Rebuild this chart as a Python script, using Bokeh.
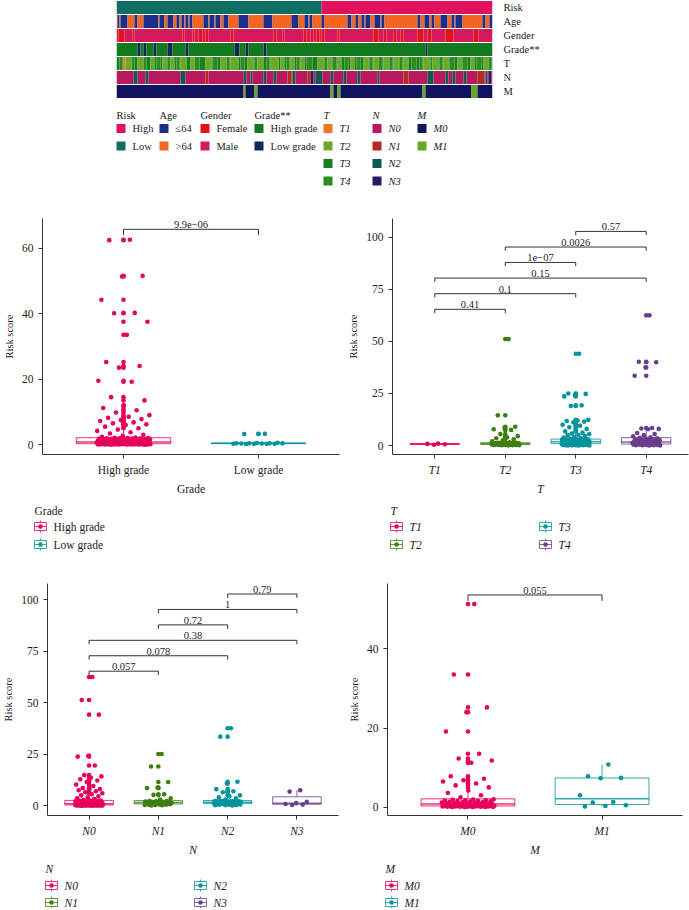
import numpy as np
from bokeh.plotting import figure
from bokeh.models import Range1d, LinearAxis, FixedTicker
from bokeh.layouts import column, row
from bokeh.embed import file_html
from bokeh.resources import INLINE
from bokeh.core.properties import value

FONT = "Liberation Serif"
INK = "#222222"

# ====================== DATA ======================
# --- annotation heatmap: patients (columns), minority segments per row (inclusive column indices)
N_PATIENTS = 376
heat_rows = ["Risk", "Age", "Gender", "Grade**", "T", "N", "M"]

risk_default = "High"
risk_segments = {"Low": [(0, 204)]}

age_default = ">64"
age_segments = {"≤64": [(1, 2), (4, 10), (18, 20), (27, 41), (43, 47), (51, 56), (60, 62), (65, 67), (69, 71),
                        (73, 75), (87, 91), (93, 97), (99, 103), (107, 111), (122, 131), (147, 155), (175, 181),
                        (188, 191), (193, 195), (205, 207), (231, 234), (239, 241), (245, 247), (249, 253),
                        (258, 263), (265, 267), (301, 303), (308, 312), (315, 317), (324, 330), (335, 337),
                        (339, 341), (342, 345), (366, 368), (373, 375)]}

gender_default = "Male"
gender_segments = {"Female": [(2, 7), (16, 17), (66, 67), (76, 77), (82, 85), (89, 91), (114, 116), (157, 159),
                              (166, 167), (187, 189), (194, 196), (200, 202), (205, 207), (221, 222), (257, 261),
                              (267, 269), (277, 279), (284, 286), (301, 306), (311, 314), (329, 336), (357, 361)]}

grade_default = "High grade"
grade_segments = {"Low grade": [(21, 23), (27, 29), (37, 39), (51, 55), (69, 71), (118, 122), (129, 131),
                                (147, 149), (309, 310)]}

t_default = "T3"
t_segments = {
    "T4": [(3, 5), (15, 17), (27, 29), (40, 43), (51, 53), (60, 62), (78, 82), (96, 100), (110, 112), (124, 127),
           (138, 140), (150, 152), (170, 172), (180, 182), (190, 195), (208, 210), (216, 219), (228, 231),
           (240, 243), (253, 255), (262, 265), (273, 275), (283, 285), (295, 299), (303, 305), (314, 315),
           (323, 325), (333, 337), (346, 350), (360, 364), (372, 374)],
    "T2": [(9, 14), (21, 26), (34, 37), (46, 49), (54, 57), (64, 69), (74, 77), (89, 94), (104, 109), (114, 121),
           (131, 136), (141, 146), (154, 161), (164, 167), (174, 177), (184, 187), (201, 206), (211, 214),
           (221, 224), (234, 237), (247, 251), (257, 261), (267, 271), (277, 281), (287, 291), (307, 312),
           (316, 321), (327, 331), (341, 344), (354, 357), (367, 371)],
    "T1": [(7, 8)],
}

n_default = "N0"
n_segments = {
    "N2": [(17, 20), (29, 31), (64, 68), (127, 129), (134, 135), (147, 149), (157, 159), (176, 178), (199, 205),
           (214, 216), (227, 229), (241, 243), (261, 262), (311, 316), (329, 331), (336, 338), (347, 349),
           (369, 370)],
    "N1": [(89, 91), (171, 174), (191, 193), (287, 291), (361, 367)],
    "N3": [(194, 196), (372, 374)],
}

m_default = "M0"
m_segments = {"M1": [(127, 128), (138, 140), (214, 216), (221, 223), (306, 308), (355, 360)]}

heat_colors = {
    "Risk": {"High": "#E0125F", "Low": "#0E6E62"},
    "Age": {"≤64": "#1B2F8A", ">64": "#F26522"},
    "Gender": {"Female": "#E3121B", "Male": "#D6195B"},
    "Grade**": {"High grade": "#127A1E", "Low grade": "#0C2A55"},
    "T": {"T1": "#F07623", "T2": "#6BAA24", "T3": "#14801F", "T4": "#2E8B22"},
    "N": {"N0": "#B8195E", "N1": "#B52A20", "N2": "#0D5953", "N3": "#2B1A63"},
    "M": {"M0": "#10145F", "M1": "#6AA624"},
}
heat_legend_order = {
    "Risk": ["High", "Low"], "Age": ["≤64", ">64"], "Gender": ["Female", "Male"],
    "Grade**": ["High grade", "Low grade"], "T": ["T1", "T2", "T3", "T4"],
    "N": ["N0", "N1", "N2", "N3"], "M": ["M0", "M1"],
}

# --- risk score per group (boxplot + jitter panels)
grade_cats = ["High grade", "Low grade"]
grade_high = [62.5, 62.4, 51.5, 51.3, 44.2, 40.2, 40.1, 37.5, 33.5, 25.2, 24.0, 23.5, 19.5, 19.2, 14.5, 13.5,
              12.0, 11.2, 10.5, 9.8, 9.0, 8.5, 8.2, 7.8, 7.5, 7.2, 6.8, 6.5, 6.2, 6.0, 5.5, 5.0,
              4.6, 4.2, 3.8, 3.4, 3.0, 2.7, 2.4, 2.2,
              2.08, 2.04, 2.01, 1.98, 1.94, 1.92, 1.87, 1.85, 1.81, 1.78, 1.76, 1.71, 1.68, 1.66, 1.61, 1.58,
              1.56, 1.51, 1.48, 1.46, 1.41, 1.38, 1.36, 1.31, 1.29, 1.25, 1.21, 1.19, 1.15, 1.11, 1.09, 1.05,
              1.02, 0.99, 0.95, 0.92, 0.89, 0.86, 0.83, 0.81,
              0.79, 0.77, 0.76, 0.74, 0.72, 0.71, 0.69, 0.68, 0.66, 0.65, 0.63, 0.62, 0.6, 0.59, 0.57, 0.56,
              0.54, 0.52, 0.51, 0.5, 0.48, 0.47, 0.45, 0.44, 0.42, 0.41, 0.4, 0.39, 0.38, 0.37, 0.36, 0.35,
              0.34, 0.33, 0.33, 0.32, 0.32, 0.31, 0.31, 0.3,
              0.29, 0.29, 0.28, 0.27, 0.27, 0.26, 0.25, 0.25, 0.24, 0.23, 0.23, 0.22, 0.21, 0.21, 0.2, 0.19,
              0.19, 0.18, 0.17, 0.17, 0.16, 0.15, 0.15, 0.14, 0.13, 0.13, 0.12, 0.11, 0.11, 0.1, 0.09, 0.08,
              0.07, 0.06, 0.05, 0.05, 0.04, 0.03, 0.02, 0.01]
grade_low = [3.3, 3.25, 0.6, 0.5, 0.45, 0.4, 0.4, 0.4, 0.35, 0.35, 0.3, 0.3, 0.3, 0.25, 0.2]

t_cats = ["T1", "T2", "T3", "T4"]
t1_vals = [0.9, 0.8, 0.6, 0.4]
t2_vals = [51.1, 14.5, 9.0, 8.5, 7.8, 7.5, 5.5, 4.5, 4.0, 3.5, 3.0, 2.5, 2.0, 1.6,
           1.3, 1.28, 1.25, 1.2, 1.18, 1.15, 1.1, 1.06, 1.02, 1.0, 0.96, 0.92, 0.9, 0.88, 0.85, 0.82, 0.8,
           0.78, 0.75, 0.72, 0.7, 0.68, 0.65, 0.62, 0.6, 0.57, 0.55, 0.52, 0.5, 0.47, 0.45, 0.42, 0.4, 0.37,
           0.35, 0.32, 0.3, 0.26, 0.22, 0.18, 0.14, 0.1]
t3_vals = [44.1, 25.0, 24.8, 24.2, 23.6, 19.3, 19.0, 12.3, 12.0, 11.8, 11.5, 11.2, 10.0, 9.5, 8.8, 8.0, 7.2,
           6.8, 6.2, 5.8, 5.5, 5.2, 5.0, 4.6, 4.2, 3.8, 3.5, 3.2,
           3.05, 3.0, 2.95, 2.9, 2.86, 2.8, 2.74, 2.7, 2.62, 2.55, 2.51, 2.45, 2.4, 2.36, 2.3, 2.24, 2.2, 2.15,
           2.1, 2.05, 2.0, 1.97, 1.93, 1.9, 1.88, 1.85, 1.82, 1.8,
           1.77, 1.74, 1.7, 1.67, 1.63, 1.6, 1.57, 1.54, 1.5, 1.47, 1.44, 1.4, 1.37, 1.34, 1.3, 1.27, 1.24, 1.2,
           1.17, 1.14, 1.1, 1.07, 1.04, 1.0, 0.98, 0.96, 0.94, 0.92,
           0.88, 0.85, 0.82, 0.8, 0.77, 0.74, 0.7, 0.67, 0.64, 0.6, 0.57, 0.54, 0.5, 0.47, 0.44, 0.4, 0.37,
           0.34, 0.3, 0.27, 0.24, 0.2, 0.17, 0.14, 0.1, 0.08, 0.05, 0.02]
t4_vals = [62.5, 40.2, 40.0, 37.5, 33.5, 8.4, 8.2, 8.0, 7.8, 6.0, 5.5, 5.0, 4.5, 4.0,
           3.7, 3.5, 3.3, 3.1, 2.9, 2.8, 2.6, 2.5, 2.3, 2.2, 2.1, 2.0, 1.9, 1.8,
           1.7, 1.6, 1.5, 1.4, 1.35, 1.3, 1.2, 1.1, 1.0, 0.95, 0.9, 0.85, 0.8, 0.75,
           0.68, 0.62, 0.55, 0.5, 0.45, 0.4, 0.35, 0.3, 0.25, 0.2, 0.15, 0.12, 0.08, 0.05]

n_cats = ["N0", "N1", "N2", "N3"]
n0_vals = [62.5, 51.3, 44.2, 24.2, 23.8, 19.5, 14.8, 14.2, 13.5, 12.8, 12.2, 11.5, 10.2, 9.5, 8.5, 8.0, 7.8,
           7.5, 7.0, 6.5, 6.0, 5.5, 5.0, 4.5, 4.0, 3.6, 3.2, 2.8,
           2.45, 2.4, 2.35, 2.3, 2.2, 2.15, 2.1, 2.0, 1.95, 1.9, 1.8, 1.75, 1.7, 1.6, 1.55, 1.5, 1.45, 1.4,
           1.35, 1.3, 1.25, 1.2, 1.15, 1.1, 1.05, 1.0, 0.95, 0.92,
           0.88, 0.85, 0.82, 0.8, 0.78, 0.75, 0.72, 0.7, 0.68, 0.65, 0.62, 0.6, 0.58, 0.55, 0.52, 0.5, 0.48,
           0.46, 0.44, 0.42, 0.4, 0.38, 0.36, 0.35, 0.34, 0.33, 0.32, 0.31,
           0.29, 0.28, 0.27, 0.26, 0.25, 0.24, 0.23, 0.22, 0.21, 0.2, 0.19, 0.18, 0.17, 0.16, 0.15, 0.14, 0.13,
           0.12, 0.11, 0.1, 0.09, 0.08, 0.07, 0.06, 0.05, 0.04, 0.03, 0.02]
n1_vals = [25.1, 19.0, 11.5, 8.8, 8.5, 5.5, 5.2, 3.5, 3.0,
           2.25, 2.2, 2.1, 2.0, 1.9, 1.8, 1.7, 1.6, 1.5, 1.45, 1.4, 1.3, 1.2, 1.1, 1.05, 1.0, 0.9, 0.85, 0.75,
           0.7, 0.6, 0.5, 0.4, 0.35, 0.3, 0.2, 0.1]
n2_vals = [37.6, 33.5, 11.6, 10.8, 8.0, 7.0, 6.5, 5.0, 4.5, 4.0, 3.5, 3.0,
           2.28, 2.24, 2.2, 2.15, 2.1, 2.05, 2.0, 1.9, 1.85, 1.8, 1.7, 1.65, 1.58, 1.52, 1.47, 1.42, 1.36, 1.3,
           1.25, 1.2, 1.15, 1.1, 1.05, 1.0, 0.95, 0.88, 0.8, 0.72, 0.65, 0.55, 0.48, 0.4, 0.32, 0.25, 0.18, 0.1]
n3_vals = [7.5, 6.8, 1.8, 1.2, 0.8, 0.5, 0.3]

m_cats = ["M0", "M1"]
m0_vals = [51.3, 33.5, 25.2, 24.0, 19.1, 13.5, 12.3, 11.8, 11.2, 7.8, 7.2, 6.8, 6.5, 6.0, 5.5, 5.0,
           4.2, 3.6, 3.0, 2.5,
           1.98, 1.92, 1.86, 1.8, 1.74, 1.68, 1.62, 1.56, 1.5, 1.44, 1.38, 1.32, 1.26, 1.2, 1.14, 1.08, 1.02,
           0.96, 0.9, 0.85,
           0.78, 0.75, 0.72, 0.69, 0.66, 0.63, 0.6, 0.57, 0.54, 0.51, 0.48, 0.45, 0.42, 0.4, 0.38, 0.36, 0.34,
           0.33, 0.32, 0.31,
           0.29, 0.28, 0.26, 0.25, 0.24, 0.22, 0.21, 0.2, 0.18, 0.17, 0.16, 0.14, 0.13, 0.12, 0.1, 0.09, 0.07,
           0.06, 0.04, 0.02]
m1_vals = [10.8, 7.8, 7.4, 7.3, 3.0, 1.3, 1.2, 0.5, 0.3, 0.2]

# p-values of pairwise comparisons (group index pairs, 1-based)
grade_pvals = [(1, 2, "9.9e−06")]
t_pvals = [(1, 2, "0.41"), (1, 3, "0.1"), (1, 4, "0.15"), (2, 3, "1e−07"), (2, 4, "0.0026"), (3, 4, "0.57")]
n_pvals = [(1, 2, "0.057"), (1, 3, "0.078"), (1, 4, "0.38"), (2, 3, "0.72"), (2, 4, "1"), (3, 4, "0.79")]
m_pvals = [(1, 2, "0.055")]

pal4 = ["#E6005C", "#3F7F10", "#00949C", "#6A3D8E"]
pal2 = ["#E6005C", "#00949C"]

# ====================== STYLE / LAYOUT ======================
grade_br_y, grade_tip = [65.7], 1.7
t_br_y, t_tip = [65.4, 72.9, 80.4, 87.9, 95.3, 102.8], 1.8
n_br_y, n_tip = [65.3, 72.8, 80.3, 87.8, 95.3, 102.8], 1.9
m_br_y, m_tip = [53.6], 1.5


def base_fig(w, h, xr, yr, **kw):
    p = figure(width=w, height=h, x_range=Range1d(*xr), y_range=Range1d(*yr),
               output_backend="svg", toolbar_location=None, frame_align=False, **kw)
    p.outline_line_color = None
    p.grid.visible = False
    p.background_fill_color = "white"
    p.border_fill_color = "white"
    return p


def blank_fig(w, h, xr, yr):
    return base_fig(w, h, xr, yr, x_axis_location=None, y_axis_location=None,
                    min_border_left=0, min_border_right=0, min_border_top=0, min_border_bottom=0)


def txt(p, x, y, s, size="10px", italic=False, align="left", baseline="middle", color=INK, y_off=0):
    p.text(x=[x], y=[y], text=[s], text_font=value(FONT), text_font_size=value(size),
           text_font_style="italic" if italic else "normal", text_align=align,
           text_baseline=baseline, text_color=color, y_offset=y_off)


# ---------- heatmap ----------
def build(default, segs):
    arr = [default] * N_PATIENTS
    for cat, lst in segs.items():
        for a, b in lst:
            for i in range(a, b + 1):
                arr[i] = cat
    return arr


heat_data = {
    "Risk": build(risk_default, risk_segments),
    "Age": build(age_default, age_segments),
    "Gender": build(gender_default, gender_segments),
    "Grade**": build(grade_default, grade_segments),
    "T": build(t_default, t_segments),
    "N": build(n_default, n_segments),
    "M": build(m_default, m_segments),
}

hm = base_fig(689, 104, (0, N_PATIENTS), (-0.5, 6.5), x_axis_location=None, y_axis_location=None,
              min_border_left=116, min_border_right=197, min_border_top=0, min_border_bottom=6)
for r, name in enumerate(heat_rows):
    arr = heat_data[name]
    yc = 6 - r
    lefts, rights, cols = [], [], []
    start = 0
    for i in range(1, N_PATIENTS + 1):
        if i == N_PATIENTS or arr[i] != arr[start]:
            lefts.append(start)
            rights.append(i)
            cols.append(heat_colors[name][arr[start]])
            start = i
    hm.quad(left=lefts, right=rights, bottom=yc - 0.46, top=yc + 0.46, fill_color=cols, line_color=None)
row_axis = LinearAxis(ticker=FixedTicker(ticks=list(range(7))),
                      major_label_overrides={6 - r: n for r, n in enumerate(heat_rows)})
row_axis.axis_line_color = None
row_axis.major_tick_line_color = None
row_axis.minor_tick_line_color = None
row_axis.major_label_standoff = 5
row_axis.major_label_text_font = FONT
row_axis.major_label_text_font_size = "10.5px"
row_axis.major_label_text_color = INK
hm.add_layout(row_axis, "right")

# ---------- heatmap legend ----------
hl = blank_fig(689, 88, (0, 689), (192, 104))
legend_x = {"Risk": 116, "Age": 159, "Gender": 200, "Grade**": 254, "T": 323, "N": 372, "M": 417}
item_y = [128, 145.5, 163, 180.5]
for name in heat_rows:
    x0 = legend_x[name]
    ital = name in ("T", "N", "M")
    txt(hl, x0, 115, name, size="10.5px", italic=ital)
    for k, cat in enumerate(heat_legend_order[name]):
        yc = item_y[k]
        hl.quad(left=x0, right=x0 + 9, bottom=yc - 4.5, top=yc + 4.5,
                fill_color=heat_colors[name][cat], line_color=None)
        txt(hl, x0 + 16, yc, cat, size="10.5px", italic=ital)


# ---------- box + jitter panels ----------
def panel(w, h, xr, yr, yticks, cats, groups, pvals, br_y, tip, xlabel, italic_cats, borders, pal):
    l, r_, t, b = borders
    p = base_fig(w, h, xr, yr, min_border_left=l, min_border_right=r_, min_border_top=t, min_border_bottom=b)
    p.xaxis.ticker = FixedTicker(ticks=list(range(1, len(cats) + 1)))
    p.xaxis.major_label_overrides = {i + 1: c for i, c in enumerate(cats)}
    p.yaxis.ticker = FixedTicker(ticks=yticks)
    for ax in (p.xaxis[0], p.yaxis[0]):
        ax.axis_line_color = "#333333"
        ax.major_tick_line_color = "#333333"
        ax.minor_tick_line_color = None
        ax.major_tick_out = 4
        ax.major_tick_in = 0
        ax.major_label_text_font = FONT
        ax.major_label_text_font_size = "11.5px"
        ax.major_label_text_color = INK
        ax.axis_label_text_font = FONT
        ax.axis_label_text_font_size = "11.5px"
        ax.axis_label_text_color = INK
        ax.major_label_standoff = 5
        ax.axis_label_standoff = 4
    p.yaxis.axis_label = "Risk score"
    p.yaxis.axis_label_text_font_style = "normal"
    p.yaxis.axis_label_text_font_size = "10.5px"
    p.xaxis.axis_label = xlabel
    p.xaxis.axis_label_text_font_style = "italic" if italic_cats else "normal"
    p.xaxis.major_label_text_font_style = "italic" if italic_cats else "normal"

    hw = 0.35
    for i, vals in enumerate(groups):
        col = pal[i]
        x0 = i + 1
        v = np.array(vals, dtype=float)
        q1, med, q3 = np.percentile(v, [25, 50, 75])
        iqr = q3 - q1
        inside = v[(v >= q1 - 1.5 * iqr) & (v <= q3 + 1.5 * iqr)]
        outl = v[(v < q1 - 1.5 * iqr) | (v > q3 + 1.5 * iqr)]
        p.segment(x0=[x0, x0], y0=[q3, q1], x1=[x0, x0], y1=[inside.max(), inside.min()],
                  line_color=col, line_alpha=0.8, line_width=1)
        p.quad(left=x0 - hw, right=x0 + hw, bottom=q1, top=q3, fill_color="white",
               line_color=col, line_alpha=0.8, line_width=1)
        p.segment(x0=x0 - hw, y0=med, x1=x0 + hw, y1=med, line_color=col, line_alpha=0.8, line_width=1.5)
        p.scatter(x=[x0] * len(outl), y=outl, size=4.6, fill_color=col, line_color=None)
        jit = np.array([(((k + 1) * 0.6180339887) % 1.0 - 0.5) * 0.4 for k in range(len(v))])
        p.scatter(x=x0 + jit, y=v, size=4.6, fill_color=col, line_color=None)

    for (a, bb, lab), yb in zip(pvals, br_y):
        p.segment(x0=[a, a, bb], y0=[yb, yb, yb], x1=[bb, a, bb], y1=[yb, yb - tip, yb - tip],
                  line_color="#333333", line_width=1)
        txt(p, (a + bb) / 2, yb, lab, size="10.5px", align="center", baseline="bottom", y_off=-1)
    return p


p1 = panel(345, 305, (0.4, 2.6), (-3.0, 69.0), [0, 20, 40, 60], grade_cats,
           [grade_high, grade_low], grade_pvals, grade_br_y, grade_tip, "Grade", False, (34, 6, 26, 40), pal2)
p2 = panel(344, 305, (0.4, 4.6), (-4.3, 109.0), [0, 25, 50, 75, 100], t_cats,
           [t1_vals, t2_vals, t3_vals, t4_vals], t_pvals, t_br_y, t_tip, "T", True, (45, 1, 26, 40), pal4)
p3 = panel(345, 303, (0.4, 4.6), (-4.8, 107.9), [0, 25, 50, 75, 100], n_cats,
           [n0_vals, n1_vals, n2_vals, n3_vals], n_pvals, n_br_y, n_tip, "N", True, (45, 7, 28, 42), pal4)
p4 = panel(344, 303, (0.4, 2.6), (-2.1, 56.5), [0, 20, 40], m_cats,
           [m0_vals, m1_vals], m_pvals, m_br_y, m_tip, "M", True, (39, 7, 28, 42), pal2)


# ---------- panel legends ----------
def key(p, cx, cy, col):
    p.segment(x0=cx, y0=cy - 6, x1=cx, y1=cy + 6, line_color=col, line_alpha=0.8)
    p.quad(left=cx - 6, right=cx + 6, bottom=cy - 4, top=cy + 4, fill_color="white",
           line_color=col, line_alpha=0.8)
    p.segment(x0=cx - 6, y0=cy, x1=cx + 6, y1=cy, line_color=col, line_alpha=0.8)
    p.scatter(x=[cx], y=[cy], size=4.6, fill_color=col, line_color=None)


def legend_block(p, title, cats, italic, tx, ty, slots, pal):
    txt(p, tx, ty, title, size="11.5px", italic=italic)
    for i, cat in enumerate(cats):
        cx, cy = slots[i]
        key(p, cx, cy, pal[i])
        txt(p, cx + 13, cy, cat, size="11.5px", italic=italic)


lg1 = blank_fig(689, 58, (0, 689), (555, 497))
legend_block(lg1, "Grade", grade_cats, False, 34, 510, [(40, 526), (40, 544)], pal2)
legend_block(lg1, "T", t_cats, True, 390, 510, [(396, 526), (396, 544), (545, 526), (545, 544)], pal4)

lg2 = blank_fig(689, 50, (0, 689), (908, 858))
legend_block(lg2, "N", n_cats, True, 45, 868, [(51, 885), (51, 902), (200, 885), (200, 902)], pal4)
legend_block(lg2, "M", m_cats, True, 385, 868, [(391, 885), (391, 902)], pal2)

layout = column(hm, hl, row(p1, p2), lg1, row(p3, p4), lg2)

open("out.html", "w").write(file_html(layout, INLINE))
